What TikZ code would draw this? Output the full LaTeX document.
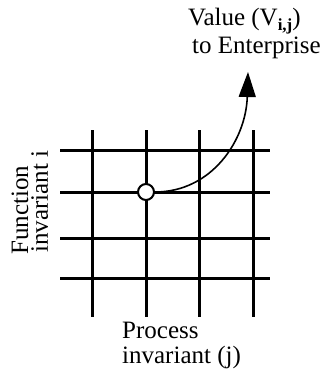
\documentclass[tikz,border=0pt]{standalone}
\usepackage{fontspec}
\setmainfont{Liberation Serif}
\usetikzlibrary{arrows.meta}
\tikzset{
  gridline/.style={line width=3pt},
  lbl/.style={inner sep=0pt, font=\fontsize{25}{26}\selectfont},
  cell/.style={circle, draw, line width=2pt, fill=white, minimum size=16pt, inner sep=0pt},
  valuearrow/.style={line width=1.6pt, -{Triangle[length=25pt,width=17pt]}}
}
\begin{document}
\begin{tikzpicture}[x=1pt,y=-1pt]
\useasboundingbox (0,0) rectangle (325,373);
% grid
\foreach \x in {92,146,199,253} \draw[gridline] (\x,130) -- (\x,317);
\foreach \y in {150,192,238,278} \draw[gridline] (60,\y) -- (270,\y);
% value arrow
\node[cell] (c) at (146,192) {};
\coordinate (tip) at (248,72);
\draw[valuearrow] (c.east) .. controls (212,192) and (246,140) .. (tip);
% labels
\node[lbl, anchor=base west] (v1) at (188,25) {Value (V\raisebox{-5pt}{\fontsize{17}{17}\selectfont\textbf{i,j}})};
\node[lbl, anchor=base west] (v2) at (192,53) {to Enterprise};
\node[lbl, anchor=base west] (p1) at (122,338) {Process};
\node[lbl, anchor=base west] (p2) at (122,363) {invariant (j)};
\node[lbl, anchor=base west, rotate=90] (f1) at (28,255) {Function};
\node[lbl, anchor=base west, rotate=90] (f2) at (48,253) {invariant i};
\end{tikzpicture}
\end{document}
